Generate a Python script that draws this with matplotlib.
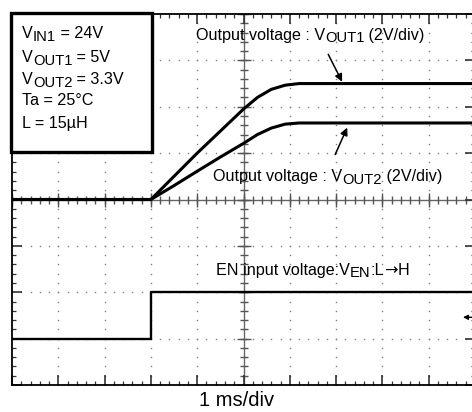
import matplotlib
matplotlib.use("Agg")
import matplotlib.pyplot as plt
import matplotlib.transforms as mtransforms
from matplotlib.patches import Rectangle
import numpy as np

plt.rcParams['font.family'] = ['Liberation Sans', 'DejaVu Sans']

# ---- data ----
time_ms = [0.0, 3.0, 3.5, 4.0, 4.5, 5.0, 5.3, 5.6, 5.9, 6.2, 10.0]
vout1_v = [0.0, 0.0, 1.0, 2.0, 2.95, 3.9, 4.4, 4.75, 4.93, 5.0, 5.0]
vout2_v = [0.0, 0.0, 0.6, 1.22, 1.83, 2.42, 2.8, 3.08, 3.25, 3.3, 3.3]
en_time_ms = [0.0, 3.0, 3.0, 10.0]
en_div = [-3.0, -3.0, -2.0, -2.0]        # EN trace position on screen (div)
volts_per_div = 2.0
n_xdiv = 10
n_ydiv = 8

FS = 11.6
SUB = 10.6
cond_lines = [
    [("V", FS, 0), ("IN1", SUB, -2.4), (" = 24V", FS, 0)],
    [("V", FS, 0), ("OUT1", SUB, -2.4), (" = 5V", FS, 0)],
    [("V", FS, 0), ("OUT2", SUB, -2.4), (" = 3.3V", FS, 0)],
    [("Ta = 25°C", FS, 0)],
    [("L = 15µH", FS, 0)],
]

W, H = 472, 412
fig = plt.figure(figsize=(W / 100, H / 100), dpi=100)
ax = fig.add_axes([12 / W, 27 / H, 463 / W, 371 / H])
ax.set_xlim(0, n_xdiv)
ax.set_ylim(-n_ydiv / 2, n_ydiv / 2)

# border ticks
ax.set_xticks(np.arange(0, n_xdiv + 1, 1))
ax.set_yticks(np.arange(-4, 5, 1))
ax.set_xticks(np.arange(0, n_xdiv + 0.01, 0.2), minor=True)
ax.set_yticks(np.arange(-4, 4.01, 0.2), minor=True)
ax.tick_params(which='both', direction='in', top=True, right=True, bottom=True, left=True,
               labelbottom=False, labelleft=False, color='#333333')
ax.tick_params(which='major', length=7, width=1.2)
ax.tick_params(which='minor', length=3.2, width=0.9)
for s in ax.spines.values():
    s.set_linewidth(1.3)
    s.set_color('black')

# dotted grid
dot_pos = np.arange(0, n_xdiv + 0.01, 0.2)
for gy in [-3, -2, -1, 1, 2, 3]:
    ax.plot(dot_pos, np.full_like(dot_pos, gy), linestyle='none', marker='s',
            ms=1.0, color='#808080', mew=0, zorder=1)
dot_pos_y = np.arange(-4, 4.01, 0.2)
for gx in [1, 2, 3, 4, 6, 7, 8, 9]:
    ax.plot(np.full_like(dot_pos_y, gx), dot_pos_y, linestyle='none', marker='s',
            ms=1.0, color='#808080', mew=0, zorder=1)

# center cross with ticks
ax.axhline(0, color='#666666', lw=1.0, zorder=1)
ax.axvline(5, color='#666666', lw=1.0, zorder=1)
minor_x = np.arange(0, n_xdiv + 0.01, 0.2)
ax.plot(minor_x, np.zeros_like(minor_x), linestyle='none', marker='|', ms=6, mew=1.0,
        color='#555555', zorder=1)
major_x = np.arange(0, n_xdiv + 1, 1)
ax.plot(major_x, np.zeros_like(major_x), linestyle='none', marker='|', ms=10, mew=1.0,
        color='#555555', zorder=1)
minor_y = np.arange(-4, 4.01, 0.2)
ax.plot(np.full_like(minor_y, 5), minor_y, linestyle='none', marker='_', ms=6, mew=1.0,
        color='#555555', zorder=1)
major_y = np.arange(-4, 5, 1)
ax.plot(np.full_like(major_y, 5.0), major_y, linestyle='none', marker='_', ms=10, mew=1.0,
        color='#555555', zorder=1)

# traces
ax.plot(time_ms, np.array(vout1_v) / volts_per_div, color='black', lw=2.2, zorder=3)
ax.plot(time_ms, np.array(vout2_v) / volts_per_div, color='black', lw=2.2, zorder=3)
ax.plot(en_time_ms, en_div, color='black', lw=1.7, zorder=3)

renderer = fig.canvas.get_renderer()


def rich(x, y, parts, zorder=6):
    dx = 0.0
    for part in parts:
        s, size, dy = part[:3]
        fam = part[3] if len(part) > 3 else None
        tr = mtransforms.offset_copy(ax.transData, fig=fig, x=dx, y=dy, units='points')
        kw = {}
        if fam:
            kw['family'] = fam
        t = ax.text(x, y, s, fontsize=size, transform=tr, ha='left', va='baseline',
                    color='black', zorder=zorder, clip_on=False, **kw)
        w = t.get_window_extent(renderer).width
        dx += w * 72.0 / fig.dpi


# labels
rich(3.97, 3.45, [("Output voltage : V", FS, 0), ("OUT1", SUB, -2.0), (" (2V/div)", FS, 0)])
rich(4.34, 0.39, [("Output voltage : V", FS, 0), ("OUT2", SUB, -2.0), (" (2V/div)", FS, 0)])
rich(4.41, -1.62, [("EN input voltage:V", FS, 0), ("EN", SUB, -2.0), (":L", FS, 0),
                   ("→", FS, 0, ['DejaVu Sans']), ("H", FS, 0)])

ax.annotate('', xy=(7.13, 2.54), xytext=(6.83, 3.13),
            arrowprops=dict(arrowstyle='-|>', color='black', lw=1.1, mutation_scale=11,
                            shrinkA=0, shrinkB=0), zorder=6)
ax.annotate('', xy=(7.24, 1.55), xytext=(6.98, 0.97),
            arrowprops=dict(arrowstyle='-|>', color='black', lw=1.1, mutation_scale=11,
                            shrinkA=0, shrinkB=0), zorder=6)
ax.annotate('', xy=(9.74, -2.54), xytext=(10.0, -2.54),
            arrowprops=dict(arrowstyle='-|>', color='black', lw=1.0, mutation_scale=7,
                            shrinkA=0, shrinkB=0), zorder=6)

# condition box
box = Rectangle((-0.02, 1.03), 3.04, 3.0, facecolor='white', edgecolor='black', lw=2.4,
                zorder=5, clip_on=False)
ax.add_patch(box)
ys = [3.49, 2.97, 2.50, 2.03, 1.55]
for yy, parts in zip(ys, cond_lines):
    rich(0.22, yy, parts)

ax.text(4.84, -4.33, "1 ms/div", fontsize=14.5, ha='center', va='center', clip_on=False)

fig.savefig("out.png", dpi=100)
